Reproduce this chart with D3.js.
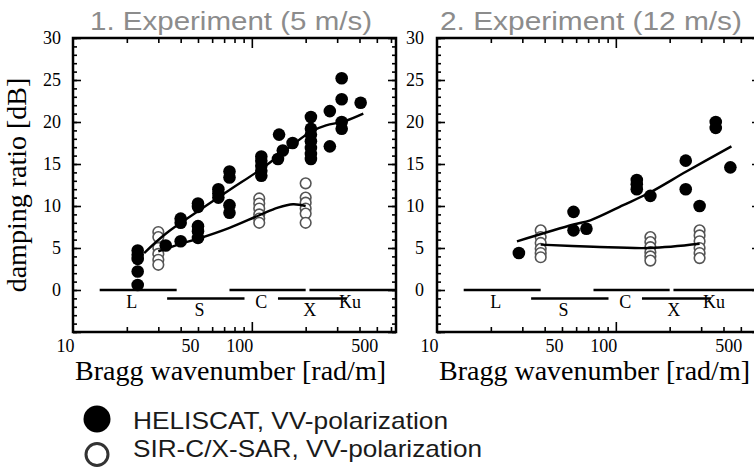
<!DOCTYPE html>
<html><head><meta charset="utf-8">
<script src="https://cdn.jsdelivr.net/npm/d3@7"></script>
<style>body{margin:0;background:#fff}</style>
</head><body>
<svg id="c" width="754" height="469"></svg>
<script>
// ---------- data ----------
const panelTitles = ["1. Experiment (5 m/s)", "2. Experiment (12 m/s)"];
const legendLabels = ["HELISCAT, VV-polarization", "SIR-C/X-SAR, VV-polarization"];
const xLabel = "Bragg wavenumber [rad/m]";
const yLabel = "damping ratio [dB]";

// [Bragg wavenumber rad/m, damping ratio dB]
const heliscat1 = [[23,0.6],[23,2.2],[23,3.7],[23,4.2],[23,4.7],[33,5.3],[40,8.5],[40,8.0],[40,5.8],
  [50,10.3],[50,9.9],[50,7.6],[50,7.0],[50,6.2],[65,12.0],[65,11.5],[65,11.0],[75,14.1],[75,13.4],[75,10.1],[75,9.2],
  [113,15.9],[113,15.4],[113,14.8],[113,14.2],[113,13.6],[140,15.6],[149,16.6],[142,18.5],[169,17.5],
  [214,20.6],[214,19.2],[214,18.5],[214,17.7],[214,16.9],[214,16.2],[214,15.6],[273,21.3],[273,17.1],
  [318,25.2],[318,22.7],[318,20.0],[318,19.2],[406,22.3]];
const sirc1 = [[30,6.9],[30,6.3],[30,5.0],[30,4.3],[30,3.6],[30,3.0],
  [110,10.9],[110,10.3],[110,9.7],[110,9.0],[110,8.5],[110,8.0],
  [200,12.7],[200,11.0],[200,10.4],[200,9.7],[200,9.1],[200,8.0]];
const heliscatFit1 = [[25,4.4],[33,6.7],[51,9.5],[75,11.9],[111,14.3],[134,15.6],[167,17.2],[216,18.9],[260,19.6],[330,20.1],[420,21.0]];
const sircFit1 = [[30,4.6],[40,5.5],[50,6.1],[75,7.4],[110,8.9],[140,9.8],[170,10.2],[200,10.0]];

const heliscat2 = [[28.7,4.4],[58,9.3],[58,7.1],[68.5,7.3],[131,13.1],[131,12.6],[131,12.0],[156,11.2],
  [246,15.4],[246,12.0],[294,10.0],[362,20.0],[362,19.3],[437,14.6]];
const sirc2 = [[38,7.1],[38,6.3],[38,5.6],[38,4.9],[38,4.4],[38,3.9],
  [156,6.3],[156,5.7],[156,5.1],[156,4.5],[156,4.0],[156,3.5],
  [294,7.1],[294,6.5],[294,5.8],[294,5.0],[294,4.4],[294,3.8]];
const heliscatFit2 = [[28,5.8],[58,7.8],[72,8.3],[110,10.1],[155,11.6],[248,14.1],[443,17.1]];
const sircFit2 = [[38,5.4],[75,5.15],[155,5.0],[294,5.5]];

// radar bands: name, k range, label position, row
const bandNames = ["L","S","C","X","Ku"];
const bandRanges = [[14.1,38],[33.6,91],[75,200],[140,340],[210,650]];
const bandLabelK = [21.3,51,113,211,354];
const bandLevel = [0,-1,0,-1,0];

const xMinorTicks = [20,30,40,50,60,70,80,90,200,300,400,500,600];
const xMajorTicks = [100];
const xTickLabels = [10,50,100,500];
const yMajorTicks = [-5,0,5,10,15,20,25,30];
const yTickLabels = [0,5,10,15,20,25,30];
const yMinorTicks = d3.range(-5,31,1);

// ---------- layout ----------
const serif = "'Liberation Serif','Times New Roman',serif";
const sans = "'Liberation Sans',Arial,sans-serif";
const svg = d3.select("#c");
const topY = 38, bottomY = 332, pw = 323;
const panels = [
  {left:73, title:panelTitles[0], tx:90, tw:282, labRight:61, heli:heliscat1, sir:sirc1, hf:heliscatFit1, sf:sircFit1},
  {left:437, title:panelTitles[1], tx:440, tw:302, labRight:424, heli:heliscat2, sir:sirc2, hf:heliscatFit2, sf:sircFit2}
];
const y = d3.scaleLinear().domain([-5,30]).range([bottomY, topY]);

panels.forEach(p => {
  const x = d3.scaleLog().domain([10, 640]).range([p.left, p.left+pw]);
  const g = svg.append("g");

  // title
  g.append("text").attr("x", p.tx).attr("y", 30).attr("font-family", sans).attr("font-size", 26)
    .attr("fill", "#8c8c8c").attr("textLength", p.tw).attr("lengthAdjust", "spacingAndGlyphs").text(p.title);

  // frame
  g.append("rect").attr("x", p.left).attr("y", topY).attr("width", pw).attr("height", bottomY-topY)
    .attr("fill", "none").attr("stroke", "#000").attr("stroke-width", 2.5);

  const tk = (axis) => axis.tickFormat("");
  const addAxis = (axis, tx, ty) => {
    const a = g.append("g").attr("transform", `translate(${tx},${ty})`).call(axis);
    a.select(".domain").remove();
    a.selectAll("line").attr("stroke", "#000").attr("stroke-width", 1.6);
    return a;
  };
  // x ticks (inward) bottom and top
  addAxis(tk(d3.axisTop(x).tickValues(xMinorTicks).tickSize(5)), 0, bottomY);
  addAxis(tk(d3.axisTop(x).tickValues(xMajorTicks).tickSize(10)), 0, bottomY);
  addAxis(tk(d3.axisBottom(x).tickValues(xMinorTicks).tickSize(5)), 0, topY);
  addAxis(tk(d3.axisBottom(x).tickValues(xMajorTicks).tickSize(10)), 0, topY);
  // y ticks (inward) left and right
  addAxis(tk(d3.axisRight(y).tickValues(yMinorTicks).tickSize(4)), p.left, 0);
  addAxis(tk(d3.axisRight(y).tickValues(yMajorTicks).tickSize(8)), p.left, 0);
  addAxis(tk(d3.axisLeft(y).tickValues(yMinorTicks).tickSize(4)), p.left+pw, 0);
  addAxis(tk(d3.axisLeft(y).tickValues(yMajorTicks).tickSize(8)), p.left+pw, 0);

  // x tick labels (right-aligned at the tick)
  const xl = g.append("g").attr("transform", `translate(0,${bottomY})`)
    .call(d3.axisBottom(x).tickValues(xTickLabels).tickSize(0).tickFormat(d3.format("d")));
  xl.select(".domain").remove();
  xl.selectAll("text").attr("font-family", serif).attr("font-size", 18).attr("fill", "#000")
    .attr("text-anchor", "end").attr("y", 0).attr("dy", 20).attr("dx", 1);

  // y tick labels
  const yl = g.append("g").attr("transform", `translate(${p.labRight},0)`)
    .call(d3.axisLeft(y).tickValues(yTickLabels).tickSize(0).tickPadding(0).tickFormat(d3.format("d")));
  yl.select(".domain").remove();
  yl.selectAll("text").attr("font-family", serif).attr("font-size", 18).attr("fill", "#000");

  // x axis title
  g.append("text").attr("x", p.left + 2).attr("y", 380).attr("font-family", serif).attr("font-size", 28)
    .attr("fill", "#000").text(xLabel);

  // bands
  bandNames.forEach((b, i) => {
    g.append("line").attr("x1", x(bandRanges[i][0])).attr("x2", Math.min(x(bandRanges[i][1]), p.left+pw))
      .attr("y1", y(bandLevel[i])).attr("y2", y(bandLevel[i]))
      .attr("stroke", "#000").attr("stroke-width", 2.5);
    g.append("text").attr("x", x(bandLabelK[i])).attr("y", y(bandLevel[i]) + 18)
      .attr("text-anchor", "middle").attr("font-family", serif).attr("font-size", 18).attr("fill", "#000").text(b);
  });

  // markers
  g.append("g").selectAll("circle").data(p.sir).join("circle")
    .attr("cx", d => x(d[0])).attr("cy", d => y(d[1])).attr("r", 5.3)
    .attr("fill", "#fff").attr("stroke", "#555").attr("stroke-width", 1.6);
  g.append("g").selectAll("circle").data(p.heli).join("circle")
    .attr("cx", d => x(d[0])).attr("cy", d => y(d[1])).attr("r", 6.3).attr("fill", "#000");

  // fit curves
  const line = d3.line().x(d => x(d[0])).y(d => y(d[1])).curve(d3.curveCatmullRom);
  [p.hf, p.sf].forEach(f => g.append("path").attr("d", line(f)).attr("fill", "none")
    .attr("stroke", "#000").attr("stroke-width", 2.4));
});

// y axis title
svg.append("text").attr("transform", `translate(26,${(topY+bottomY)/2}) rotate(-90)`).attr("text-anchor", "middle")
  .attr("font-family", serif).attr("font-size", 28).attr("fill", "#000").text(yLabel);

// legend
const leg = svg.append("g");
leg.append("circle").attr("cx", 97).attr("cy", 419).attr("r", 13.5).attr("fill", "#000");
leg.append("circle").attr("cx", 97).attr("cy", 454.5).attr("r", 11).attr("fill", "#fff")
  .attr("stroke", "#333").attr("stroke-width", 3);
const legendWidths = [315, 349];
legendLabels.forEach((t, i) => leg.append("text").attr("x", 133).attr("y", 429 + i*28)
  .attr("font-family", sans).attr("font-size", 24).attr("fill", "#1a1a1a")
  .attr("textLength", legendWidths[i]).attr("lengthAdjust", "spacingAndGlyphs").text(t));
</script>
</body></html>
